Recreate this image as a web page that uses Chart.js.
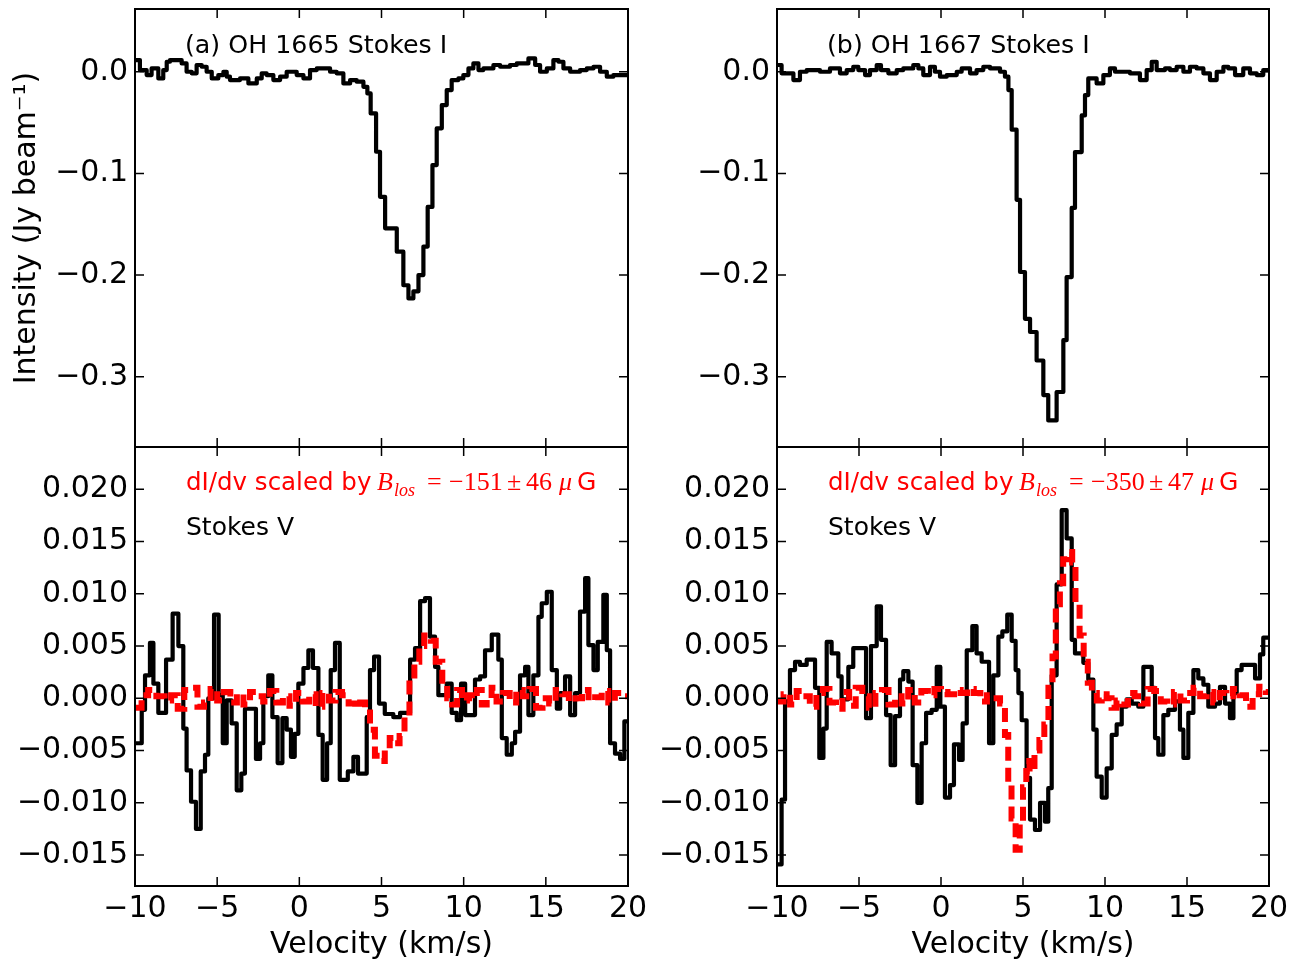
<!DOCTYPE html>
<html>
<head>
<meta charset="utf-8">
<script src="https://cdn.jsdelivr.net/npm/chart.js@4.4.1/dist/chart.umd.min.js"></script>
<style>
  html, body { margin: 0; padding: 0; background: #fff; }
  #wrap { position: relative; width: 1312px; height: 965px; overflow: hidden; background: #fff; }
  #wrap canvas { position: absolute; display: block; }
</style>
</head>
<body>
<div id="wrap">
  <canvas id="cTL"></canvas>
  <canvas id="cTR"></canvas>
  <canvas id="cBL"></canvas>
  <canvas id="cBR"></canvas>
</div>
<script>
// ticks
const xTicks = [-10, -5, 0, 5, 10, 15, 20];
const yTicksI = [0.0, -0.1, -0.2, -0.3];
const yTicksV = [0.020, 0.015, 0.010, 0.005, 0.000, -0.005, -0.010, -0.015];

// (a) OH 1665 Stokes I  -- channel start velocity (km/s) / intensity (Jy/beam)
const velI1665 = [-10, -9.70, -9.29, -8.99, -8.58, -8.28, -8.07, -7.87, -7.16, -6.86, -6.55, -6.25, -5.94, -5.64, -5.33, -4.93, -4.62, -4.42, -4.22, -3.61,
  -3.10, -2.59, -2.29, -1.99, -1.58, -1.17, -0.77, -0.16, 0.25, 0.65, 1.06, 1.87, 2.27, 2.68, 3.09, 3.49, 3.90, 4.14, 4.34, 4.67,
  4.91, 5.22, 5.93, 6.33, 6.64, 6.94, 7.25, 7.55, 7.81, 8.10, 8.36, 8.67, 8.97, 9.27, 9.68, 9.98, 10.29, 10.59, 10.90, 11.20,
  11.81, 12.22, 12.82, 13.23, 13.94, 14.35, 14.65, 15.06, 15.46, 15.77, 16.07, 16.48, 17.08, 17.49, 17.90, 18.30, 18.71, 19.11, 20];
const intI1665 = [0.0115, 0.0016, -0.0033, 0.0033, -0.0066, 0.0016, 0.0098, 0.0115, 0.0082, 0.0000, -0.0016, 0.0066, 0.0049, 0.0000, -0.0066, -0.0033, 0.0000, -0.0049, -0.0082, -0.0066,
  -0.0115, -0.0066, -0.0016, -0.0033, -0.0082, -0.0049, 0.0000, -0.0033, -0.0066, 0.0016, 0.0033, 0.0000, -0.0016, -0.0115, -0.0082, -0.0098, -0.0148, -0.0213, -0.0410, -0.0787,
  -0.1230, -0.1540, -0.1770, -0.2100, -0.2230, -0.2160, -0.2000, -0.1720, -0.1330, -0.0918, -0.0557, -0.0328, -0.0180, -0.0082, -0.0066, -0.0033, 0.0033, 0.0082, 0.0016, 0.0033,
  0.0066, 0.0049, 0.0066, 0.0082, 0.0131, 0.0066, 0.0000, 0.0033, 0.0115, 0.0098, 0.0033, 0.0000, 0.0016, 0.0033, 0.0049, 0.0000, -0.0049, -0.0033, -0.0033];

// (b) OH 1667 Stokes I
const velI1667 = [-10, -9.72, -9.00, -8.60, -8.19, -7.38, -6.77, -6.16, -5.75, -5.35, -5.04, -4.63, -4.33, -3.92, -3.66, -3.21, -2.70, -2.30, -1.69, -1.38,
  -1.08, -0.67, -0.37, -0.06, 0.35, 0.96, 1.26, 1.77, 2.17, 2.58, 2.99, 3.60, 3.90, 4.11, 4.31, 4.61, 4.82, 5.12, 5.43, 5.83,
  6.24, 6.54, 7.05, 7.46, 7.66, 7.97, 8.17, 8.58, 8.78, 8.98, 9.49, 9.90, 10.30, 10.61, 11.52, 12.13, 12.54, 12.85, 13.15, 13.66,
  13.96, 14.37, 14.78, 15.18, 15.59, 16.00, 16.40, 16.81, 17.22, 17.52, 17.93, 18.43, 18.84, 19.25, 19.65, 20];
const intI1667 = [0.0066, -0.0016, -0.0082, 0.0000, 0.0016, 0.0000, 0.0033, -0.0016, 0.0016, 0.0049, 0.0016, -0.0033, 0.0016, 0.0066, 0.0016, -0.0016, 0.0016, 0.0033, 0.0066, 0.0033,
  -0.0033, 0.0049, 0.0000, -0.0049, -0.0033, 0.0000, 0.0033, -0.0016, 0.0016, 0.0049, 0.0033, 0.0000, -0.0049, -0.0180, -0.0570, -0.1260, -0.1970, -0.2430, -0.2560, -0.2840,
  -0.3180, -0.3430, -0.3150, -0.2640, -0.2020, -0.1340, -0.0790, -0.0430, -0.0230, -0.0066, -0.0115, -0.0033, 0.0033, 0.0000, -0.0016, -0.0082, 0.0016, 0.0098, 0.0016, 0.0033,
  0.0016, 0.0049, 0.0000, 0.0049, 0.0033, -0.0016, -0.0082, 0.0000, 0.0049, 0.0033, -0.0033, 0.0033, -0.0016, -0.0033, 0.0016, 0.0016];

// 1665 Stokes V
const velV1665 = [-10, -9.59, -9.39, -9.09, -8.88, -8.58, -8.11, -7.71, -7.36, -7.06, -6.86, -6.59, -6.29, -6.00, -5.74, -5.54, -5.19, -4.91, -4.66, -4.42,
  -4.12, -3.81, -3.53, -3.31, -2.64, -2.39, -2.19, -1.89, -1.64, -1.32, -1.03, -0.77, -0.51, -0.28, -0.06, 0.25, 0.55, 0.83, 1.16, 1.42,
  1.69, 1.91, 2.17, 2.46, 2.95, 3.29, 3.57, 4.10, 4.30, 4.55, 4.85, 5.20, 5.72, 6.13, 6.74, 7.04, 7.35, 7.65, 7.95, 8.26,
  8.46, 8.97, 9.27, 9.58, 9.84, 10.09, 10.69, 11.00, 11.30, 11.71, 12.11, 12.32, 12.62, 12.93, 13.13, 13.43, 13.74, 13.94, 14.24, 14.55,
  14.75, 15.06, 15.36, 15.67, 15.87, 16.17, 16.48, 16.78, 17.08, 17.39, 17.59, 17.90, 18.16, 18.50, 18.71, 18.91, 19.21, 19.52, 19.78, 20];
const stokesV1665 = [-0.0043, -0.0011, 0.0022, 0.0053, 0.0014, -0.0014, 0.0037, 0.0081, 0.0050, -0.0029, -0.0069, -0.0099, -0.0125, -0.0070, -0.0054, 0.0000, 0.0080, 0.0003, -0.0043, -0.0002,
  -0.0024, -0.0088, -0.0072, -0.0010, -0.0058, -0.0043, 0.0002, 0.0022, -0.0018, -0.0062, -0.0019, -0.0030, -0.0056, -0.0034, 0.0014, 0.0029, 0.0046, 0.0029, -0.0035, -0.0078,
  -0.0043, 0.0027, 0.0053, -0.0078, -0.0070, -0.0056, -0.0072, -0.0018, 0.0027, 0.0040, -0.0005, -0.0015, -0.0018, -0.0014, 0.0037, 0.0048, 0.0093, 0.0096, 0.0059, 0.0030,
  0.0003, 0.0014, -0.0014, -0.0021, 0.0014, -0.0016, 0.0018, 0.0021, 0.0046, 0.0061, 0.0037, -0.0038, -0.0054, -0.0043, -0.0032, 0.0022, 0.0030, -0.0016, 0.0022, 0.0078,
  0.0091, 0.0102, 0.0027, -0.0010, 0.0005, 0.0021, -0.0016, 0.0005, 0.0083, 0.0115, 0.0051, 0.0027, 0.0054, 0.0099, 0.0046, -0.0043, -0.0053, -0.0058, -0.0022, -0.0022];

// 1665 dI/dv scaled by B_los
const velD1665 = [-10, -9.6, -9.2, -8.7, -8.2, -7.8, -7.4, -7.0, -6.6, -6.2, -5.8, -5.4, -5.0, -4.6, -4.2, -3.8, -3.4, -3.0, -2.6, -2.2,
  -1.8, -1.4, -1.0, -0.6, -0.2, 0.2, 0.6, 1.0, 1.4, 1.8, 2.2, 2.6, 3.0, 3.4, 3.7, 4.0, 4.3, 4.6, 4.9, 5.2,
  5.5, 5.8, 6.1, 6.4, 6.7, 7.0, 7.3, 7.6, 8.0, 8.3, 8.7, 9.0, 9.3, 9.6, 9.9, 10.2, 10.5, 10.8, 11.1, 11.4,
  11.7, 12.0, 12.4, 12.8, 13.2, 13.6, 14.0, 14.4, 14.8, 15.2, 15.6, 16.0, 16.4, 16.8, 17.2, 17.6, 18.0, 18.4, 18.8, 19.2, 19.6, 20];
const dIdv1665 = [-0.0009, 0.0003, 0.0008, 0.0002, -0.0002, 0.0003, -0.0010, 0.0008, 0.0010, -0.0008, -0.0004, 0.0009, -0.0002, 0.0006, -0.0004, 0.0004, -0.0006, 0.0006, 0.0002, -0.0003,
  0.0007, -0.0004, 0.0002, -0.0007, 0.0005, -0.0003, 0.0004, -0.0008, 0.0005, -0.0002, 0.0006, 0.0003, -0.0005, -0.0009, -0.0004, -0.0010, -0.0030, -0.0055, -0.0060, -0.0048,
  -0.0038, -0.0043, -0.0036, -0.0018, 0.0018, 0.0035, 0.0050, 0.0060, 0.0055, 0.0035, 0.0012, 0.0000, -0.0006, 0.0008, -0.0002, 0.0003, 0.0000, 0.0008, -0.0006, -0.0001,
  0.0010, -0.0003, 0.0005, -0.0004, 0.0008, 0.0002, 0.0009, -0.0009, 0.0000, -0.0005, 0.0008, 0.0004, -0.0003, 0.0000, 0.0008, -0.0002, 0.0001, 0.0007, -0.0004, 0.0005, 0.0002, 0.0002];

// 1667 Stokes V
const velV1667 = [-10, -9.72, -9.51, -9.21, -8.90, -8.60, -8.19, -7.68, -7.42, -7.17, -6.97, -6.67, -6.26, -6.06, -5.65, -5.35, -4.57, -4.27, -3.92, -3.66,
  -3.35, -3.07, -2.80, -2.50, -2.30, -1.99, -1.73, -1.44, -1.18, -0.91, -0.57, -0.26, -0.04, 0.24, 0.55, 0.79, 1.10, 1.32, 1.57, 1.91,
  2.17, 2.48, 2.93, 3.19, 3.50, 3.74, 4.04, 4.31, 4.55, 4.72, 4.92, 5.22, 5.43, 5.73, 6.04, 6.34, 6.54, 6.75, 7.05, 7.36,
  7.66, 7.97, 8.17, 8.68, 8.98, 9.29, 9.49, 9.80, 10.10, 10.41, 10.71, 11.02, 11.32, 11.63, 12.03, 12.34, 12.85, 13.05, 13.25, 13.56,
  13.86, 14.27, 14.57, 14.78, 15.08, 15.39, 15.69, 16.00, 16.30, 16.71, 17.01, 17.32, 17.62, 17.83, 18.03, 18.33, 19.15, 19.45, 19.65, 20];
const stokesV1667 = [-0.0159, -0.0097, -0.0003, 0.0027, 0.0035, 0.0032, 0.0037, 0.0010, -0.0057, -0.0029, 0.0054, 0.0043, 0.0021, -0.0001, 0.0030, 0.0048, -0.0019, 0.0050, 0.0088, 0.0056,
  -0.0016, -0.0064, -0.0017, 0.0018, 0.0026, 0.0016, -0.0064, -0.0100, -0.0043, -0.0014, -0.0011, 0.0030, -0.0008, -0.0095, -0.0083, -0.0044, -0.0059, -0.0024, 0.0046, 0.0069,
  0.0043, 0.0035, -0.0043, 0.0022, 0.0059, 0.0064, 0.0080, 0.0055, 0.0027, 0.0005, -0.0021, -0.0076, -0.0116, -0.0126, -0.0100, -0.0118, -0.0086, 0.0022, 0.0109, 0.0180,
  0.0153, 0.0056, 0.0043, 0.0034, 0.0018, -0.0030, -0.0075, -0.0095, -0.0067, -0.0035, -0.0025, -0.0008, -0.0001, -0.0005, -0.0008, 0.0030, 0.0010, -0.0038, -0.0054, -0.0016,
  -0.0011, -0.0003, -0.0030, -0.0057, -0.0014, 0.0027, 0.0019, 0.0013, -0.0008, -0.0005, 0.0011, -0.0005, -0.0019, 0.0005, 0.0027, 0.0032, 0.0019, 0.0042, 0.0058, 0.0058];

// 1667 dI/dv scaled by B_los
const velD1667 = [-10, -9.6, -9.2, -8.8, -8.4, -8.0, -7.6, -7.2, -6.8, -6.4, -6.0, -5.6, -5.2, -4.8, -4.4, -4.0, -3.6, -3.2, -2.8, -2.4,
  -2.0, -1.6, -1.2, -0.8, -0.4, 0.0, 0.4, 0.8, 1.2, 1.6, 2.0, 2.4, 2.8, 3.2, 3.6, 3.9, 4.1, 4.3, 4.55, 4.8,
  5.0, 5.2, 5.4, 5.7, 6.0, 6.3, 6.55, 6.8, 7.0, 7.25, 7.45, 7.7, 8.0, 8.2, 8.45, 8.7, 8.95, 9.2, 9.5, 9.8,
  10.1, 10.4, 10.7, 11.0, 11.4, 11.8, 12.2, 12.6, 13.0, 13.4, 13.8, 14.2, 14.6, 15.0, 15.4, 15.8, 16.2, 16.6, 17.0, 17.4,
  17.8, 18.2, 18.6, 19.0, 19.4, 19.8, 20];
const dIdv1667 = [-0.0003, 0.0004, -0.0006, 0.0007, 0.0002, -0.0008, 0.0005, 0.0009, -0.0004, -0.0010, 0.0006, -0.0007, 0.0010, 0.0002, -0.0009, 0.0005, 0.0008, -0.0006, 0.0002, -0.0005,
  0.0008, -0.0004, 0.0007, 0.0003, 0.0009, 0.0006, 0.0004, 0.0008, 0.0005, 0.0009, 0.0005, -0.0003, 0.0003, 0.0000, -0.0005, -0.0035, -0.0080, -0.0115, -0.0145, -0.0120,
  -0.0085, -0.0060, -0.0070, -0.0050, -0.0040, -0.0025, 0.0010, 0.0040, 0.0090, 0.0110, 0.0133, 0.0140, 0.0130, 0.0090, 0.0060, 0.0035, 0.0015, 0.0005, -0.0002, 0.0004,
  0.0000, -0.0009, -0.0002, -0.0006, 0.0005, 0.0002, -0.0005, 0.0009, 0.0007, -0.0003, -0.0006, 0.0006, -0.0002, 0.0005, 0.0010, 0.0002, 0.0006, -0.0004, 0.0005, 0.0002,
  0.0009, 0.0003, -0.0008, 0.0004, 0.0011, 0.0006, 0.0006];

const SANS = '"DejaVu Sans", sans-serif';
const SERIF = '"Liberation Serif", "DejaVu Serif", serif';
const minus = s => s.replace('-', '\u2212');

// frame box + inward ticks on all four sides (matplotlib look)
const framePlugin = {
  id: 'frame',
  afterDatasetsDraw(chart) {
    const { ctx, chartArea: a, scales: { x, y } } = chart;
    const len = 9;
    ctx.save();
    ctx.strokeStyle = '#000';
    ctx.lineWidth = 1.5;
    ctx.beginPath();
    x.ticks.forEach(t => {
      const px = x.getPixelForValue(t.value);
      ctx.moveTo(px, a.bottom); ctx.lineTo(px, a.bottom - len);
      ctx.moveTo(px, a.top); ctx.lineTo(px, a.top + len);
    });
    y.ticks.forEach(t => {
      const py = y.getPixelForValue(t.value);
      ctx.moveTo(a.left, py); ctx.lineTo(a.left + len, py);
      ctx.moveTo(a.right, py); ctx.lineTo(a.right - len, py);
    });
    ctx.stroke();
    ctx.lineWidth = 2;
    ctx.strokeRect(a.left, a.top, a.right - a.left, a.bottom - a.top);
    ctx.restore();
  }
};

// text annotations inside the panels
const notesPlugin = {
  id: 'notes',
  afterDraw(chart, args, opts) {
    const { ctx, chartArea: a } = chart;
    (opts.items || []).forEach(it => {
      ctx.save();
      ctx.font = it.font;
      ctx.fillStyle = it.color || '#000';
      ctx.textAlign = 'left';
      ctx.textBaseline = 'alphabetic';
      ctx.fillText(it.text, a.left + it.dx, a.top + it.dy);
      ctx.restore();
    });
  }
};

function bLosNote(value) {
  const red = '#ff0000';
  return [
    { text: 'dI/dv scaled by', dx: 51, dy: 43, font: '24.5px ' + SANS, color: red },
    { text: 'B', dx: 242, dy: 43, font: 'italic 26px ' + SERIF, color: red },
    { text: 'los', dx: 259, dy: 49, font: 'italic 18px ' + SERIF, color: red },
    { text: '=', dx: 292, dy: 43, font: '26px ' + SERIF, color: red },
    { text: value[0], dx: 314, dy: 43, font: '26px ' + SERIF, color: red },
    { text: '\u00b1', dx: 372, dy: 43, font: '26px ' + SERIF, color: red },
    { text: value[1], dx: 391, dy: 43, font: '26px ' + SERIF, color: red },
    { text: '\u03bc', dx: 424, dy: 43, font: 'italic 26px ' + SERIF, color: red },
    { text: 'G', dx: 442, dy: 43, font: '25px ' + SANS, color: red },
    { text: 'Stokes V', dx: 51, dy: 88, font: '25px ' + SANS, color: '#000' }
  ];
}

function stepLine(vel, vals, color, width, dash) {
  return {
    data: vel.map((v, i) => ({ x: v, y: vals[i] })),
    borderColor: color,
    borderWidth: width,
    borderDash: dash || [],
    borderJoinStyle: dash ? 'miter' : 'round',
    borderCapStyle: 'butt',
    stepped: true,
    pointRadius: 0,
    fill: false,
    order: dash ? 0 : 1
  };
}

function makePanel(id, box, cfg) {
  const el = document.getElementById(id);
  const yW = 135, padTop = 10, padRight = 30;
  const xH = cfg.showX ? 965 - box.bottom : 0;
  const padBottom = cfg.showX ? 0 : 10;
  const w = yW + (box.right - box.left) + padRight;
  const h = padTop + (box.bottom - box.top) + xH + padBottom;
  el.width = w; el.height = h;
  el.style.width = w + 'px'; el.style.height = h + 'px';
  el.style.left = (box.left - yW) + 'px';
  el.style.top = (box.top - padTop) + 'px';

  const tickFont = { family: SANS, size: 30 };
  new Chart(el, {
    type: 'line',
    data: { datasets: cfg.datasets },
    options: {
      responsive: false,
      animation: false,
      devicePixelRatio: 1,
      layout: { padding: { top: padTop, right: padRight, bottom: padBottom, left: 0 } },
      plugins: { legend: { display: false }, tooltip: { enabled: false }, notes: { items: cfg.notes } },
      scales: {
        x: {
          type: 'linear', min: -10, max: 20,
          afterBuildTicks: s => { s.ticks = xTicks.map(v => ({ value: v })); },
          afterFit: s => { s.height = xH; s.paddingLeft = 0; s.paddingRight = 0; },
          grid: { display: false, drawTicks: false }, border: { display: false },
          ticks: { display: cfg.showX, autoSkip: false, maxRotation: 0, padding: 5, color: '#000', font: tickFont,
                   callback: v => minus(String(v)) },
          title: { display: cfg.showX, text: 'Velocity (km/s)', color: '#000', font: tickFont, padding: { top: 0, bottom: 2 } }
        },
        y: {
          type: 'linear', min: cfg.yMin, max: cfg.yMax,
          afterBuildTicks: s => { s.ticks = cfg.yTicks.map(v => ({ value: v })); },
          afterFit: s => { s.width = yW; s.paddingTop = 0; s.paddingBottom = 0; },
          grid: { display: false, drawTicks: false }, border: { display: false },
          ticks: { autoSkip: false, padding: 7, color: '#000', font: tickFont,
                   callback: v => minus(v.toFixed(cfg.dec)) },
          title: { display: !!cfg.yTitle, text: cfg.yTitle || '', color: '#000', font: tickFont, padding: { top: 9, bottom: 0 } }
        }
      }
    },
    plugins: [framePlugin, notesPlugin]
  });
}

const yRangeI = [-0.3691, 0.0617];
const yRangeV = [-0.01796, 0.02405];
const lwBlack = 4.2, lwRed = 6;
const redDash = [14, 7];

makePanel('cTL', { left: 135, top: 9, right: 628, bottom: 447 }, {
  showX: false, yMin: yRangeI[0], yMax: yRangeI[1], yTicks: yTicksI, dec: 1,
  yTitle: 'Intensity (Jy beam\u207b\u00b9)',
  datasets: [stepLine(velI1665, intI1665, '#000', lwBlack)],
  notes: [{ text: '(a) OH 1665 Stokes I', dx: 50, dy: 44, font: '25.3px ' + SANS }]
});
makePanel('cTR', { left: 777, top: 9, right: 1269, bottom: 447 }, {
  showX: false, yMin: yRangeI[0], yMax: yRangeI[1], yTicks: yTicksI, dec: 1,
  datasets: [stepLine(velI1667, intI1667, '#000', lwBlack)],
  notes: [{ text: '(b) OH 1667 Stokes I', dx: 50, dy: 44, font: '25.3px ' + SANS }]
});
makePanel('cBL', { left: 135, top: 447, right: 628, bottom: 886 }, {
  showX: true, yMin: yRangeV[0], yMax: yRangeV[1], yTicks: yTicksV, dec: 3,
  datasets: [stepLine(velV1665, stokesV1665, '#000', lwBlack), stepLine(velD1665, dIdv1665, '#ff0000', lwRed, redDash)],
  notes: bLosNote(['\u2212151', '46'])
});
makePanel('cBR', { left: 777, top: 447, right: 1269, bottom: 886 }, {
  showX: true, yMin: yRangeV[0], yMax: yRangeV[1], yTicks: yTicksV, dec: 3,
  datasets: [stepLine(velV1667, stokesV1667, '#000', lwBlack), stepLine(velD1667, dIdv1667, '#ff0000', lwRed, redDash)],
  notes: bLosNote(['\u2212350', '47'])
});
</script>
</body>
</html>
